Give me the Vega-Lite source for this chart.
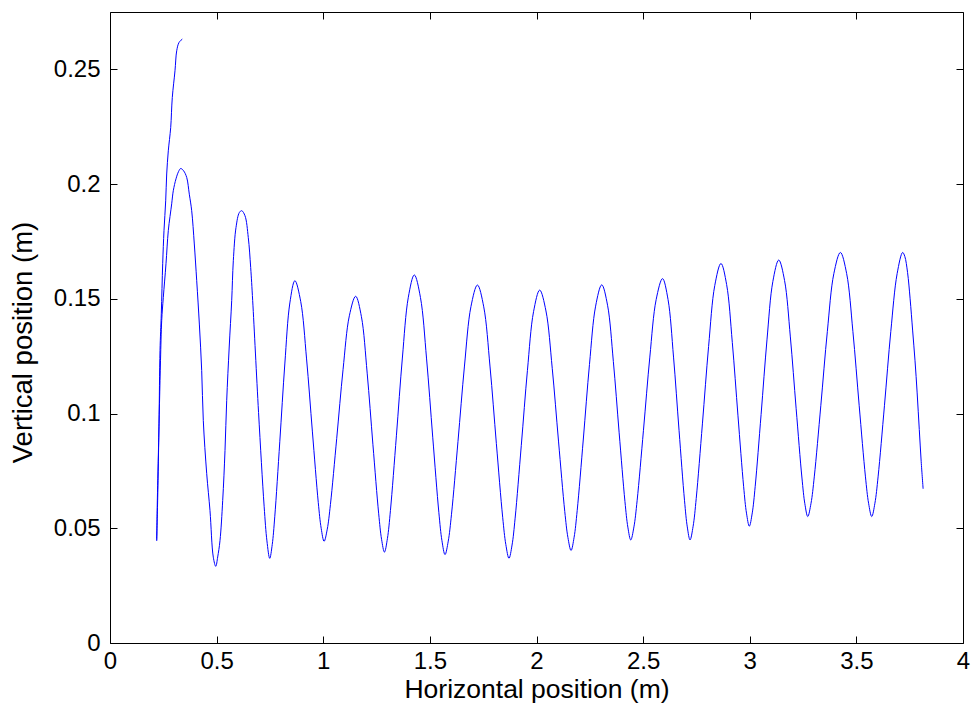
{
  "$schema": "https://vega.github.io/schema/vega-lite/v6.json",
  "width": 853,
  "height": 631,
  "autosize": {"type": "none"},
  "padding": {"left": 110, "top": 12, "right": 11, "bottom": 61},
  "background": "white",
  "config": {
    "view": {"stroke": "#000000", "strokeWidth": 1},
    "axis": {
      "labelFont": "Liberation Sans",
      "titleFont": "Liberation Sans",
      "labelFontSize": 24,
      "titleFontSize": 26.5,
      "labelColor": "#000000",
      "titleColor": "#000000",
      "titleFontWeight": "normal",
      "ticks": true,
      "tickColor": "#000000",
      "tickOpacity": 1,
      "tickSize": 7,
      "tickWidth": 1,
      "offset": -7,
      "domain": false,
      "grid": false,
      "zindex": 1,
      "labelFlush": false,
      "labelOverlap": false
    }
  },
  "data": {"values": [
    {"i":1,"x":0.339,"y":0.2632},{"i":2,"x":0.3236,"y":0.2617},{"i":3,"x":0.3128,"y":0.2581},{"i":4,"x":0.3048,"y":0.2494},
    {"i":5,"x":0.2921,"y":0.2377},{"i":6,"x":0.2846,"y":0.2246},{"i":7,"x":0.2734,"y":0.2145},{"i":8,"x":0.2659,"y":0.2044},
    {"i":9,"x":0.2612,"y":0.1927},{"i":10,"x":0.2532,"y":0.1797},{"i":11,"x":0.2471,"y":0.1653},{"i":12,"x":0.2406,"y":0.1435},
    {"i":13,"x":0.2345,"y":0.1274},{"i":14,"x":0.2298,"y":0.0956},{"i":15,"x":0.2237,"y":0.0634},{"i":16,"x":0.219,"y":0.0446},
    {"i":17,"x":0.2215,"y":0.06},{"i":18,"x":0.2275,"y":0.085},{"i":19,"x":0.2368,"y":0.123},{"i":20,"x":0.2424,"y":0.1405},
    {"i":21,"x":0.2499,"y":0.1505},{"i":22,"x":0.2626,"y":0.1653},{"i":23,"x":0.2734,"y":0.1797},{"i":24,"x":0.2893,"y":0.1914},
    {"i":25,"x":0.2968,"y":0.1971},{"i":26,"x":0.3095,"y":0.2023},{"i":27,"x":0.3212,"y":0.2054},{"i":28,"x":0.3315,"y":0.2068},
    {"i":29,"x":0.345,"y":0.2058},{"i":30,"x":0.3597,"y":0.2029},{"i":31,"x":0.3719,"y":0.1956},{"i":32,"x":0.3831,"y":0.1884},
    {"i":33,"x":0.3953,"y":0.1739},{"i":34,"x":0.4066,"y":0.1579},{"i":35,"x":0.419,"y":0.139},{"i":36,"x":0.43,"y":0.1187},
    {"i":37,"x":0.4375,"y":0.0969},{"i":38,"x":0.4535,"y":0.0738},{"i":39,"x":0.4689,"y":0.0577},{"i":40,"x":0.4844,"y":0.0374},
    {"i":41,"x":0.496,"y":0.0334},{"i":42,"x":0.505,"y":0.0375},{"i":43,"x":0.5158,"y":0.0446},{"i":44,"x":0.5285,"y":0.0621},
    {"i":45,"x":0.5393,"y":0.0839},{"i":46,"x":0.5472,"y":0.1056},{"i":47,"x":0.559,"y":0.129},{"i":48,"x":0.5707,"y":0.1492},
    {"i":49,"x":0.5783,"y":0.1666},{"i":50,"x":0.5909,"y":0.1811},{"i":51,"x":0.6065,"y":0.1876},{"i":52,"x":0.6176,"y":0.1884},
    {"i":53,"x":0.633,"y":0.1862},{"i":54,"x":0.6485,"y":0.1767},{"i":55,"x":0.6597,"y":0.1637},{"i":56,"x":0.6691,"y":0.1492},
    {"i":57,"x":0.6966,"y":0.1005},{"i":58,"x":0.7228,"y":0.0596},{"i":59,"x":0.7359,"y":0.0445},{"i":60,"x":0.749,"y":0.0369},
    {"i":61,"x":0.7608,"y":0.0429},{"i":62,"x":0.7726,"y":0.055},{"i":63,"x":0.7962,"y":0.0877},{"i":64,"x":0.8198,"y":0.1216},
    {"i":65,"x":0.8434,"y":0.1482},{"i":66,"x":0.867,"y":0.1579},{"i":67,"x":0.8944,"y":0.1488},{"i":68,"x":0.9218,"y":0.1238},
    {"i":69,"x":0.9492,"y":0.092},{"i":70,"x":0.9766,"y":0.0613},{"i":71,"x":0.9903,"y":0.05},{"i":72,"x":1.004,"y":0.0443},
    {"i":73,"x":1.0188,"y":0.0496},{"i":74,"x":1.0336,"y":0.0603},{"i":75,"x":1.0632,"y":0.0892},{"i":76,"x":1.0928,"y":0.1191},
    {"i":77,"x":1.1224,"y":0.1426},{"i":78,"x":1.152,"y":0.1511},{"i":79,"x":1.179,"y":0.1422},{"i":80,"x":1.206,"y":0.1176},
    {"i":81,"x":1.233,"y":0.0864},{"i":82,"x":1.26,"y":0.0563},{"i":83,"x":1.2735,"y":0.0452},{"i":84,"x":1.287,"y":0.0396},
    {"i":85,"x":1.301,"y":0.0456},{"i":86,"x":1.315,"y":0.0577},{"i":87,"x":1.343,"y":0.0903},{"i":88,"x":1.371,"y":0.1242},
    {"i":89,"x":1.399,"y":0.1507},{"i":90,"x":1.427,"y":0.1604},{"i":91,"x":1.4558,"y":0.1506},{"i":92,"x":1.4846,"y":0.1238},
    {"i":93,"x":1.5134,"y":0.0897},{"i":94,"x":1.5422,"y":0.0568},{"i":95,"x":1.5566,"y":0.0446},{"i":96,"x":1.571,"y":0.0385},
    {"i":97,"x":1.5862,"y":0.0444},{"i":98,"x":1.6014,"y":0.0561},{"i":99,"x":1.6318,"y":0.0878},{"i":100,"x":1.6622,"y":0.1207},
    {"i":101,"x":1.6926,"y":0.1466},{"i":102,"x":1.723,"y":0.156},{"i":103,"x":1.7526,"y":0.1465},{"i":104,"x":1.7822,"y":0.1203},
    {"i":105,"x":1.8118,"y":0.0869},{"i":106,"x":1.8414,"y":0.0548},{"i":107,"x":1.8562,"y":0.0429},{"i":108,"x":1.871,"y":0.0369},
    {"i":109,"x":1.8854,"y":0.0427},{"i":110,"x":1.8998,"y":0.0544},{"i":111,"x":1.9286,"y":0.086},{"i":112,"x":1.9574,"y":0.1187},
    {"i":113,"x":1.9862,"y":0.1444},{"i":114,"x":2.015,"y":0.1538},{"i":115,"x":2.0444,"y":0.1447},{"i":116,"x":2.0738,"y":0.1197},
    {"i":117,"x":2.1032,"y":0.088},{"i":118,"x":2.1326,"y":0.0573},{"i":119,"x":2.1473,"y":0.046},{"i":120,"x":2.162,"y":0.0403},
    {"i":121,"x":2.1764,"y":0.0461},{"i":122,"x":2.1908,"y":0.0577},{"i":123,"x":2.2196,"y":0.0889},{"i":124,"x":2.2484,"y":0.1214},
    {"i":125,"x":2.2772,"y":0.1468},{"i":126,"x":2.306,"y":0.1561},{"i":127,"x":2.3332,"y":0.1472},{"i":128,"x":2.3604,"y":0.1227},
    {"i":129,"x":2.3876,"y":0.0916},{"i":130,"x":2.4148,"y":0.0616},{"i":131,"x":2.4284,"y":0.0505},{"i":132,"x":2.442,"y":0.0449},
    {"i":133,"x":2.4569,"y":0.0506},{"i":134,"x":2.4718,"y":0.062},{"i":135,"x":2.5016,"y":0.0927},{"i":136,"x":2.5314,"y":0.1246},
    {"i":137,"x":2.5612,"y":0.1497},{"i":138,"x":2.591,"y":0.1588},{"i":139,"x":2.6168,"y":0.1497},{"i":140,"x":2.6426,"y":0.1246},
    {"i":141,"x":2.6684,"y":0.0927},{"i":142,"x":2.6942,"y":0.062},{"i":143,"x":2.7071,"y":0.0506},{"i":144,"x":2.72,"y":0.0449},
    {"i":145,"x":2.7345,"y":0.0509},{"i":146,"x":2.749,"y":0.063},{"i":147,"x":2.778,"y":0.0955},{"i":148,"x":2.807,"y":0.1292},
    {"i":149,"x":2.836,"y":0.1558},{"i":150,"x":2.865,"y":0.1654},{"i":151,"x":2.8916,"y":0.1562},{"i":152,"x":2.9182,"y":0.131},
    {"i":153,"x":2.9448,"y":0.099},{"i":154,"x":2.9714,"y":0.0681},{"i":155,"x":2.9847,"y":0.0566},{"i":156,"x":2.998,"y":0.0509},
    {"i":157,"x":3.0118,"y":0.0567},{"i":158,"x":3.0256,"y":0.0683},{"i":159,"x":3.0532,"y":0.0996},{"i":160,"x":3.0808,"y":0.1321},
    {"i":161,"x":3.1084,"y":0.1576},{"i":162,"x":3.136,"y":0.1669},{"i":163,"x":3.1632,"y":0.158},{"i":164,"x":3.1904,"y":0.1334},
    {"i":165,"x":3.2176,"y":0.1021},{"i":166,"x":3.2448,"y":0.0719},{"i":167,"x":3.2584,"y":0.0607},{"i":168,"x":3.272,"y":0.0551},
    {"i":169,"x":3.2873,"y":0.0609},{"i":170,"x":3.3026,"y":0.0724},{"i":171,"x":3.3332,"y":0.1034},{"i":172,"x":3.3638,"y":0.1357},
    {"i":173,"x":3.3944,"y":0.161},{"i":174,"x":3.425,"y":0.1702},{"i":175,"x":3.4544,"y":0.161},{"i":176,"x":3.4838,"y":0.1357},
    {"i":177,"x":3.5132,"y":0.1034},{"i":178,"x":3.5426,"y":0.0724},{"i":179,"x":3.5573,"y":0.0609},{"i":180,"x":3.572,"y":0.0551},
    {"i":181,"x":3.5869,"y":0.0609},{"i":182,"x":3.6018,"y":0.0724},{"i":183,"x":3.6316,"y":0.1034},{"i":184,"x":3.6614,"y":0.1357},
    {"i":185,"x":3.6912,"y":0.161},{"i":186,"x":3.717,"y":0.1702},{"i":187,"x":3.727,"y":0.1685},{"i":188,"x":3.74,"y":0.1615},
    {"i":189,"x":3.752,"y":0.15},{"i":190,"x":3.764,"y":0.136},{"i":191,"x":3.775,"y":0.123},{"i":192,"x":3.785,"y":0.109},
    {"i":193,"x":3.795,"y":0.093},{"i":194,"x":3.804,"y":0.079},{"i":195,"x":3.813,"y":0.0672}
  ]},
  "layer": [
    {
      "mark": {"type": "line", "color": "#0000ff", "strokeWidth": 1, "interpolate": "catmull-rom"},
      "encoding": {
        "x": {
          "field": "x", "type": "quantitative",
          "scale": {"domain": [0, 4], "nice": false, "zero": false},
          "axis": {
            "orient": "bottom",
            "values": [0, 0.5, 1, 1.5, 2, 2.5, 3, 3.5, 4],
            "format": "~g",
            "labelPadding": 6,
            "title": "Horizontal position (m)",
            "titleBaseline": "alphabetic",
            "titleY": 61
          }
        },
        "y": {
          "field": "y", "type": "quantitative",
          "scale": {"domain": [0, 0.275], "nice": false, "zero": false},
          "axis": {
            "orient": "left",
            "values": [0, 0.05, 0.1, 0.15, 0.2, 0.25],
            "format": "~g",
            "labelPadding": 10,
            "title": "Vertical position (m)",
            "titleFontSize": 27.5,
            "titleBaseline": "alphabetic",
            "titleX": -86,
            "titleY": 330
          }
        },
        "order": {"field": "i", "type": "quantitative"}
      }
    },
    {
      "mark": {"type": "point", "opacity": 0},
      "encoding": {
        "x": {
          "field": "x", "type": "quantitative",
          "axis": {"orient": "top", "values": [0, 0.5, 1, 1.5, 2, 2.5, 3, 3.5, 4], "labels": false, "title": null}
        },
        "y": {
          "field": "y", "type": "quantitative",
          "axis": {"orient": "right", "values": [0, 0.05, 0.1, 0.15, 0.2, 0.25], "labels": false, "title": null}
        }
      }
    }
  ],
  "resolve": {"axis": {"x": "independent", "y": "independent"}}
}
